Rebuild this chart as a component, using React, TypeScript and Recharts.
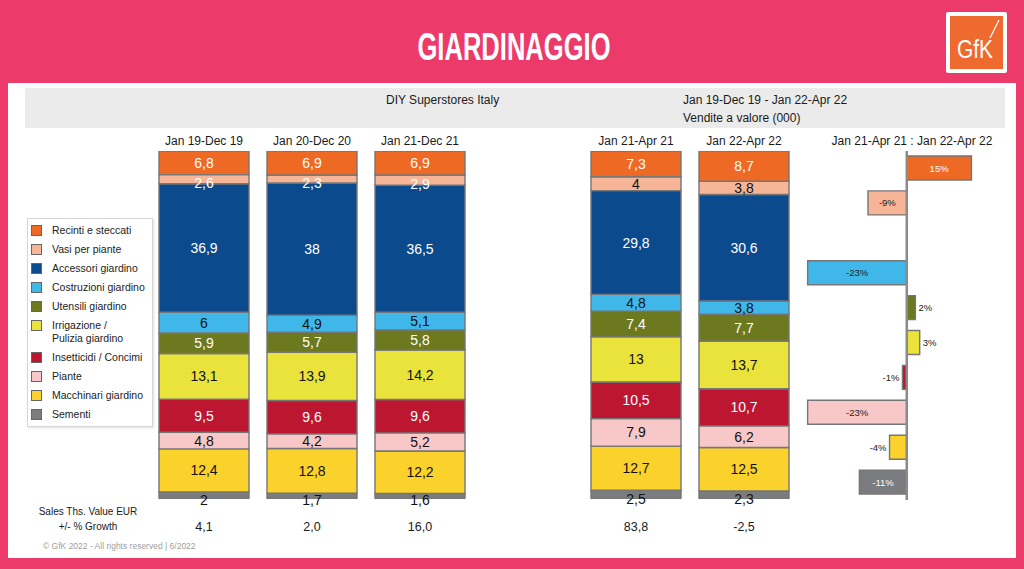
import React from 'react';
import { BarChart, Bar, XAxis, YAxis, LabelList, Legend, Cell, ReferenceLine } from 'recharts';

// periods (the blank one is the gap between the yearly and the Jan-Apr groups)
const periods = ['Jan 19-Dec 19', 'Jan 20-Dec 20', 'Jan 21-Dec 21', '', 'Jan 21-Apr 21', 'Jan 22-Apr 22'];
const growthPct = ['4,1', '2,0', '16,0', '', '83,8', '-2,5'];

// share of value per segment, %
const sementi = [2, 1.7, 1.6, null, 2.5, 2.3];
const macchinari = [12.4, 12.8, 12.2, null, 12.7, 12.5];
const piante = [4.8, 4.2, 5.2, null, 7.9, 6.2];
const insetticidi = [9.5, 9.6, 9.6, null, 10.5, 10.7];
const irrigazione = [13.1, 13.9, 14.2, null, 13, 13.7];
const utensili = [5.9, 5.7, 5.8, null, 7.4, 7.7];
const costruzioni = [6, 4.9, 5.1, null, 4.8, 3.8];
const accessori = [36.9, 38, 36.5, null, 29.8, 30.6];
const vasi = [2.6, 2.3, 2.9, null, 4, 3.8];
const recinti = [6.8, 6.9, 6.9, null, 7.3, 8.7];

// stack order, bottom to top
const segKeys = ['sementi', 'macchinari', 'piante', 'insetticidi', 'irrigazione', 'utensili', 'costruzioni', 'accessori', 'vasi', 'recinti'];
const segNames = ['Sementi', 'Macchinari giardino', 'Piante', 'Insetticidi / Concimi', 'Irrigazione /\nPulizia giardino', 'Utensili giardino', 'Costruzioni giardino', 'Accessori giardino', 'Vasi per piante', 'Recinti e steccati'];
const segValues = [sementi, macchinari, piante, insetticidi, irrigazione, utensili, costruzioni, accessori, vasi, recinti];

// Jan 21-Apr 21 : Jan 22-Apr 22 change, %, top to bottom (Recinti first)
const changeNames = ['Recinti e steccati', 'Vasi per piante', 'Accessori giardino', 'Costruzioni giardino', 'Utensili giardino', 'Irrigazione / Pulizia giardino', 'Insetticidi / Concimi', 'Piante', 'Macchinari giardino', 'Sementi'];
const changeValues = [15, -9, 0, -23, 2, 3, -1, -23, -4, -11];

const colors: Record<string, string> = {
  sementi: '#7b7c80',
  macchinari: '#fbd22b',
  piante: '#f8c8c9',
  insetticidi: '#bd1630',
  irrigazione: '#e9e33c',
  utensili: '#6d791f',
  costruzioni: '#3fb7e9',
  accessori: '#0c4a8e',
  vasi: '#f6b597',
  recinti: '#ee6a24',
};
const ink: Record<string, string> = {
  sementi: '#111',
  macchinari: '#111',
  piante: '#111',
  insetticidi: '#fff',
  irrigazione: '#111',
  utensili: '#fff',
  costruzioni: '#111',
  accessori: '#fff',
  vasi: '#fff',
  recinti: '#fff',
};
const changeKeys = ['recinti', 'vasi', 'accessori', 'costruzioni', 'utensili', 'irrigazione', 'insetticidi', 'piante', 'macchinari', 'sementi'];

const rows = periods.map((period, i) => {
  const row: Record<string, any> = { period };
  segKeys.forEach((k, j) => {
    row[k] = segValues[j][i];
  });
  return row;
});

const changeRows = changeNames.map((name, i) => ({ name, key: changeKeys[i], change: changeValues[i] }));

const FONT = '"Liberation Sans", Arial, sans-serif';
const fmt = (v: number) => String(v).replace('.', ',');

const box = (p: any) => {
  const vb = p.viewBox ?? p;
  return { x: Number(vb.x), y: Number(vb.y), w: Number(vb.width), h: Number(vb.height) };
};

const segLabel = (key: string) => (p: any) => {
  if (p.value == null || p.value === '') return null;
  const { x, y, w, h } = box(p);
  const v = Number(p.value);
  let fill = ink[key];
  // peach labels are dark in the Jan-Apr group
  if (key === 'vasi' && x > 560) fill = '#111';
  return (
    <text x={x + w / 2} y={y + h / 2 + (v < 3 ? 4 : 0)} textAnchor="middle" dominantBaseline="central" fill={fill} fontSize={14} fontFamily={FONT}>
      {fmt(v)}
    </text>
  );
};

const periodLabel = (p: any) => {
  if (!p.value) return null;
  const { x, y, w } = box(p);
  return (
    <text x={x + w / 2} y={y - 10} textAnchor="middle" dominantBaseline="central" fill="#1a1a1a" fontSize={12} fontFamily={FONT}>
      {p.value}
    </text>
  );
};

const GrowthTick = (p: any) => (
  <text x={p.x} y={p.y + 28} textAnchor="middle" dominantBaseline="central" fill="#1a1a1a" fontSize={12.5} fontFamily={FONT}>
    {growthPct[p.index]}
  </text>
);

const changeLabel = (p: any) => {
  if (p.value == null) return null;
  const { x, y, w, h } = box(p);
  const v = Number(p.value);
  const left = Math.min(x, x + w);
  const right = Math.max(x, x + w);
  const cy = y + h / 2;
  const key = changeKeys[changeValues.indexOf(v)];
  let tx = (left + right) / 2;
  let anchor: 'start' | 'middle' | 'end' = 'middle';
  let fill = key === 'recinti' || key === 'sementi' ? '#fff' : '#222';
  if (Math.abs(v) < 9) {
    fill = '#222';
    if (v >= 0) {
      tx = right + 3;
      anchor = 'start';
    } else {
      tx = left - 3;
      anchor = 'end';
    }
  }
  return (
    <text x={tx} y={cy} textAnchor={anchor} dominantBaseline="central" fill={fill} fontSize={9.5} fontFamily={FONT}>
      {v + '%'}
    </text>
  );
};

const LegendBox = (props: any) => {
  const items = [...(props.payload ?? [])].sort((a: any, b: any) => segNames.indexOf(b.value) - segNames.indexOf(a.value));
  return (
    <div
      style={{
        border: '1px solid #d6d6d6',
        boxShadow: '1px 1px 2px rgba(0,0,0,0.12)',
        background: '#fff',
        padding: '2px 0 2px 3px',
        fontFamily: FONT,
        fontSize: 10.5,
        color: '#222',
      }}
    >
      {items.map((it: any) => (
        <div key={it.value} style={{ display: 'flex', alignItems: 'flex-start', padding: '3px 0', lineHeight: '13px' }}>
          <span
            style={{
              width: 9,
              height: 9,
              background: it.color,
              border: '1px solid #666',
              marginRight: 10,
              marginTop: 1,
              flex: 'none',
            }}
          />
          <span style={{ whiteSpace: 'pre-line' }}>{it.value}</span>
        </div>
      ))}
    </div>
  );
};

const abs = (left: number, top: number, extra: React.CSSProperties = {}): React.CSSProperties => ({
  position: 'absolute',
  left,
  top,
  ...extra,
});

export default function App() {
  return (
    <div style={{ position: 'absolute', left: 0, top: 0, width: 1024, height: 569, background: '#ec3a6b', overflow: 'hidden', fontFamily: FONT }}>
      <svg width={1024} height={83} style={abs(0, 0)}>
        <text x={514} y={60} textAnchor="middle" fill="#fff" fontSize={38} fontWeight="bold" fontFamily={FONT} textLength={193} lengthAdjust="spacingAndGlyphs">
          GIARDINAGGIO
        </text>
        <rect x={946} y={12} width={61} height={61} rx={2} fill="#fff" />
        <rect x={950} y={16} width={53} height={53} fill="#ee6a2e" />
        <text x={975} y={58} textAnchor="middle" fill="#fff" fontSize={25} fontFamily={FONT} textLength={36} lengthAdjust="spacingAndGlyphs">
          GfK
        </text>
        <line x1={990} y1={38} x2={999} y2={20} stroke="#fff" strokeWidth={1.2} />
      </svg>

      <div style={abs(8, 83, { width: 1008, height: 475, background: '#fff' })} />
      <div style={abs(25, 88, { width: 980, height: 40, background: '#ebebeb' })} />
      <div style={abs(386, 93, { fontSize: 12, color: '#1a1a1a' })}>DIY Superstores Italy</div>
      <div style={abs(683, 93, { fontSize: 12, color: '#1a1a1a' })}>Jan 19-Dec 19 - Jan 22-Apr 22</div>
      <div style={abs(683, 111, { fontSize: 12, color: '#1a1a1a' })}>Vendite a valore (000)</div>
      <div style={abs(800, 134, { width: 224, textAlign: 'center', fontSize: 12, color: '#1a1a1a' })}>Jan 21-Apr 21 : Jan 22-Apr 22</div>

      <div style={abs(28, 506, { width: 120, textAlign: 'center', fontSize: 10, color: '#1a1a1a' })}>Sales Ths. Value EUR</div>
      <div style={abs(28, 521, { width: 120, textAlign: 'center', fontSize: 10, color: '#1a1a1a' })}>+/- % Growth</div>
      <div style={abs(43, 541, { fontSize: 8.5, color: '#a0a0a0' })}>© GfK 2022 - All rights reserved | 6/2022</div>

      <div style={abs(0, 0)}>
        <BarChart width={1024} height={569} data={rows} margin={{ top: 151, right: 226, bottom: 30, left: 150 }} barSize={90}>
          <XAxis dataKey="period" height={40} axisLine={false} tickLine={false} tickSize={0} tickMargin={0} tick={GrowthTick} interval={0} />
          <YAxis type="number" domain={[0, 100]} allowDataOverflow hide />
          <Legend layout="vertical" align="center" verticalAlign="middle" content={LegendBox} wrapperStyle={{ left: 27, top: 218, width: 126, height: 'auto' }} />
          {segKeys.map((k, j) => (
            <Bar key={k} dataKey={k} name={segNames[j]} stackId="s" fill={colors[k]} stroke="#767676" strokeWidth={1.4} isAnimationActive={false}>
              <LabelList dataKey={k} content={segLabel(k)} />
              {k === 'recinti' ? <LabelList dataKey="period" content={periodLabel} /> : null}
            </Bar>
          ))}
        </BarChart>
      </div>

      <div style={abs(0, 0)}>
        <BarChart width={1024} height={569} data={changeRows} layout="vertical" margin={{ top: 151, right: 31, bottom: 69, left: 799 }} barSize={24}>
          <XAxis type="number" domain={[-25, 20]} hide />
          <YAxis type="category" dataKey="name" hide />
          <Bar dataKey="change" stroke="#767676" strokeWidth={1.4} isAnimationActive={false}>
            {changeRows.map((r) => (
              <Cell key={r.name} fill={colors[r.key]} />
            ))}
            <LabelList dataKey="change" content={changeLabel} />
          </Bar>
          <ReferenceLine x={0} stroke="#8a8a8a" strokeWidth={2.5} />
        </BarChart>
      </div>
    </div>
  );
}
